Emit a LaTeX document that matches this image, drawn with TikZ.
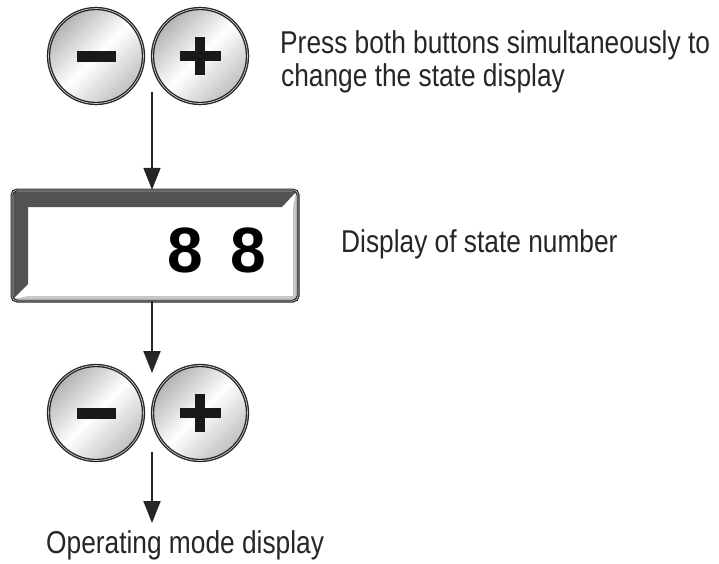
\documentclass[tikz,border=0pt]{standalone}
\usepackage{fontspec}
\setmainfont{Liberation Sans}
\usetikzlibrary{arrows.meta}
\begin{document}
\begin{tikzpicture}[x=1pt,y=-1pt,
  btn/.style={circle, minimum size=95pt, inner sep=0pt, draw=black!85, line width=1.3pt,
    double=gray!45, double distance=0.7pt,
    top color=gray!60, bottom color=gray!50, middle color=white, shading angle=45},
  flow/.style={line width=2pt, draw=black!85, -{Triangle[width=17pt,length=22pt]}},
  lbl/.style={anchor=base west, inner sep=0pt, text=black!85, font=\fontsize{26.3}{31}\selectfont},
  glyph/.style={fill=black!90}
]
\useasboundingbox (0,0) rectangle (719,563);

% top buttons
\node[btn] (m1) at (96,56) {};
\node[btn] (p1) at (200,56) {};
\fill[glyph] (m1.center) ++(-19.5,-5.5) rectangle ++(39,11);
\fill[glyph] (p1.center) ++(-20.5,-5) rectangle ++(41,10);
\fill[glyph] (p1.center) ++(-5,-19) rectangle ++(10,38);

% display
\node[minimum width=286pt, minimum height=111pt, inner sep=0pt] (display) at (155,245.5) {};
\fill[white, rounded corners=5pt] (12,190) rectangle (298,301);
\fill[gray!45] (296,192) -- (296,299) -- (14,299) -- (28,296) -- (293,296) -- (293,207) -- cycle;
\fill[black!68] (14,192) -- (296,192) -- (282,207) -- (28,207) -- (28,284) -- (14,298) -- cycle;
\draw[rounded corners=5pt, line width=1.2pt, draw=black!85, double=gray!40, double distance=0.6pt] (12,190) rectangle (298,301);
\node[anchor=base west, inner sep=0pt, font=\fontsize{64}{64}\bfseries\selectfont] (num) at (167.5,272) {8\hspace{27.4pt}8};

% bottom buttons
\node[btn] (m2) at (96,413) {};
\node[btn] (p2) at (200,413) {};
\fill[glyph] (m2.center) ++(-19.5,-5.5) rectangle ++(39,11);
\fill[glyph] (p2.center) ++(-20.5,-5) rectangle ++(41,10);
\fill[glyph] (p2.center) ++(-5,-19) rectangle ++(10,38);

% arrows
\coordinate (a1) at (152,92);
\coordinate (a2) at (152,373);
\coordinate (a3s) at (152,452);
\coordinate (a3e) at (152,523);
\draw[flow] (a1) -- (a1 |- display.north);
\draw[flow] (a2 |- display.south) -- (a2);
\draw[flow] (a3s) -- (a3e);

% labels
\node[lbl] (t1) at (280,53) {\scalebox{1}[1.2]{Press both buttons simultaneously to}};
\node[lbl] (t2) at (281,86) {\scalebox{1}[1.2]{change the state display}};
\node[lbl] (t3) at (341,252) {\scalebox{1}[1.2]{Display of state number}};
\node[lbl] (t4) at (46,553) {\scalebox{1}[1.2]{Operating mode display}};
\end{tikzpicture}
\end{document}
